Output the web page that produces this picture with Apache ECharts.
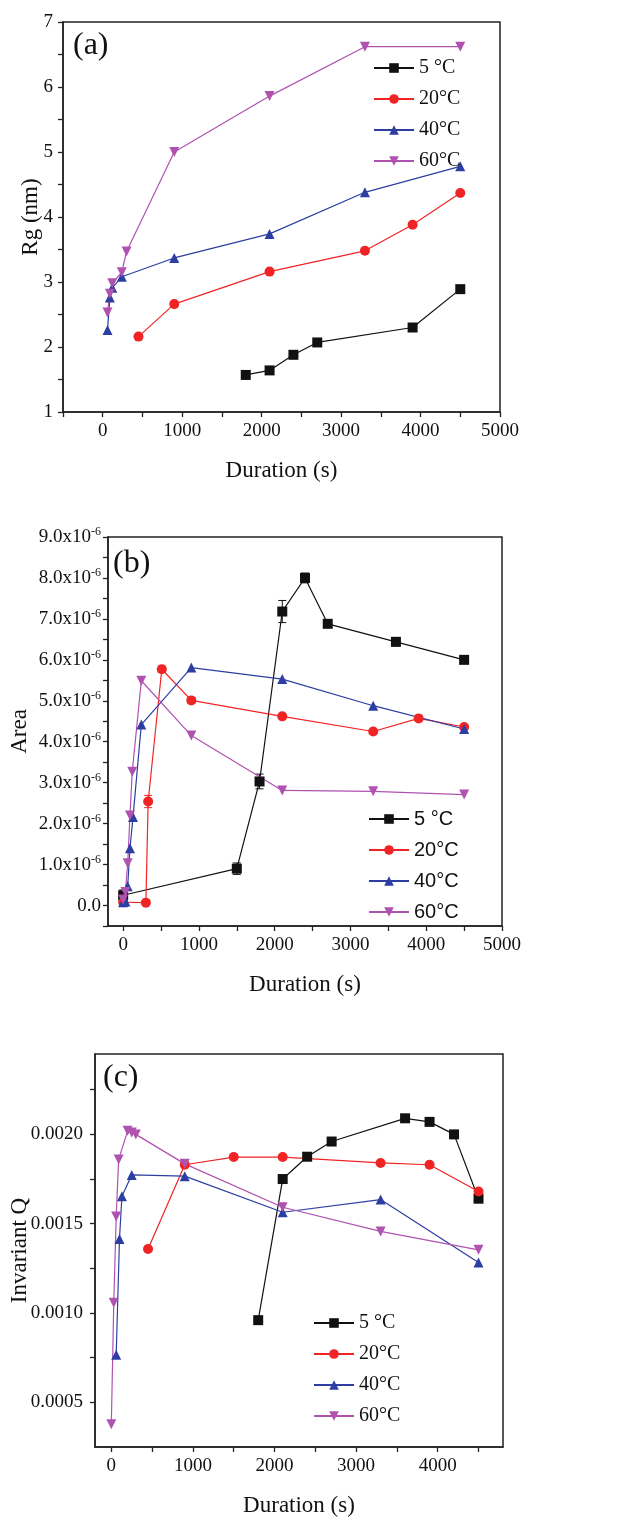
<!DOCTYPE html>
<html><head><meta charset="utf-8">
<script src="https://cdn.jsdelivr.net/npm/echarts@6/dist/echarts.min.js"></script>
<style>html,body{margin:0;padding:0;background:#fff}#c{width:638px;height:1520px}</style>
</head><body><div id="c"></div>
<script>
// ---------- data ----------
const seriesNames = ['5 °C', '20°C', '40°C', '60°C'];

// (a) Rg (nm)
const a5x = [1800, 2100, 2400, 2700, 3900, 4500];
const a5y = [1.57, 1.64, 1.88, 2.07, 2.30, 2.89];
const a20x = [450, 900, 2100, 3300, 3900, 4500];
const a20y = [2.16, 2.66, 3.16, 3.48, 3.88, 4.37];
const a40x = [60, 90, 120, 240, 900, 2100, 3300, 4500];
const a40y = [2.26, 2.76, 2.91, 3.08, 3.37, 3.74, 4.38, 4.78];
const a60x = [60, 90, 120, 240, 300, 900, 2100, 3300, 4500];
const a60y = [2.53, 2.82, 2.98, 3.15, 3.47, 5.00, 5.86, 6.62, 6.62];

// (b) Area
const b5x = [0, 1500, 1800, 2100, 2400, 2700, 3600, 4500];
const b5y = [0.25e-6, 0.90e-6, 3.03e-6, 7.18e-6, 8.00e-6, 6.88e-6, 6.44e-6, 6.00e-6];
const b5err = [0.13e-6, 0.14e-6, 0.18e-6, 0.27e-6, 0.12e-6, 0.06e-6, 0.10e-6, 0.05e-6];
const b20x = [0, 300, 330, 510, 900, 2100, 3300, 3900, 4500];
const b20y = [0.08e-6, 0.07e-6, 2.54e-6, 5.77e-6, 5.01e-6, 4.62e-6, 4.25e-6, 4.57e-6, 4.36e-6];
const b20err = [0.03e-6, 0.03e-6, 0.15e-6, 0.08e-6, 0.06e-6, 0.05e-6, 0.05e-6, 0.05e-6, 0.05e-6];
const b40x = [0, 30, 60, 90, 130, 240, 900, 2100, 3300, 4500];
const b40y = [0.08e-6, 0.10e-6, 0.47e-6, 1.40e-6, 2.16e-6, 4.42e-6, 5.81e-6, 5.53e-6, 4.88e-6, 4.31e-6];
const b60x = [0, 30, 60, 90, 120, 240, 900, 2100, 3300, 4500];
const b60y = [0.15e-6, 0.33e-6, 1.03e-6, 2.20e-6, 3.27e-6, 5.49e-6, 4.15e-6, 2.81e-6, 2.79e-6, 2.71e-6];

// (c) Invariant Q
const c5x = [1800, 2100, 2400, 2700, 3600, 3900, 4200, 4500];
const c5y = [0.00096, 0.00175, 0.001875, 0.00196, 0.00209, 0.00207, 0.00200, 0.00164];
const c20x = [450, 900, 1500, 2100, 3300, 3900, 4500];
const c20y = [0.001358, 0.00183, 0.001873, 0.001873, 0.00184, 0.00183, 0.00168];
const c40x = [60, 100, 130, 250, 900, 2100, 3300, 4500];
const c40y = [0.000766, 0.001414, 0.001654, 0.001773, 0.001766, 0.001564, 0.001635, 0.001283];
const c60x = [0, 30, 60, 90, 200, 250, 300, 900, 2100, 3300, 4500];
const c60y = [0.000378, 0.001058, 0.001541, 0.00186, 0.00202, 0.00201, 0.00200, 0.001835, 0.001592, 0.001457, 0.001354];

// tick labels
const aXLabels = [0, 1000, 2000, 3000, 4000, 5000];
const aXTicks = [-500, 0, 500, 1000, 1500, 2000, 2500, 3000, 3500, 4000, 4500, 5000];
const aYLabels = [1, 2, 3, 4, 5, 6, 7];
const aYTicks = [1, 1.5, 2, 2.5, 3, 3.5, 4, 4.5, 5, 5.5, 6, 6.5, 7];
const bXLabels = [0, 1000, 2000, 3000, 4000, 5000];
const bXTicks = [0, 500, 1000, 1500, 2000, 2500, 3000, 3500, 4000, 4500, 5000];
const bYLabels = [0, 1e-6, 2e-6, 3e-6, 4e-6, 5e-6, 6e-6, 7e-6, 8e-6, 9e-6];
const bYTicks = [-0.5e-6, 0, 0.5e-6, 1e-6, 1.5e-6, 2e-6, 2.5e-6, 3e-6, 3.5e-6, 4e-6, 4.5e-6, 5e-6, 5.5e-6, 6e-6, 6.5e-6, 7e-6, 7.5e-6, 8e-6, 8.5e-6, 9e-6];
const cXLabels = [0, 1000, 2000, 3000, 4000];
const cXTicks = [0, 500, 1000, 1500, 2000, 2500, 3000, 3500, 4000, 4500];
const cYLabels = [0.0005, 0.0010, 0.0015, 0.0020];
const cYTicks = [0.0005, 0.00075, 0.0010, 0.00125, 0.0015, 0.00175, 0.0020, 0.00225];

// ---------- styling ----------
const SERIF = 'Liberation Serif';
const SANS = 'Liberation Sans';
const colors = {'5 °C': '#111111', '20°C': '#f02424', '40°C': '#2c3ea2', '60°C': '#b052b0'};
const symbols = {'5 °C': 'rect', '20°C': 'circle', '40°C': 'triangle', '60°C': 'path://M0,0L10,0L5,9Z'};

function pairs(xs, ys) { return xs.map((x, i) => [x, ys[i]]); }
function line(name, xs, ys, gi) {
  const c = colors[name];
  return {
    type: 'line', name, xAxisIndex: gi, yAxisIndex: gi,
    data: pairs(xs, ys), symbol: symbols[name], symbolSize: 10,
    lineStyle: {width: 1.2, color: c}, itemStyle: {color: c},
    z: 3
  };
}
function errSeries(xs, ys, es, gi, c) {
  return {
    type: 'custom', name: 'err', xAxisIndex: gi, yAxisIndex: gi,
    data: xs.map((x, i) => [x, ys[i] - es[i], ys[i] + es[i]]),
    encode: {x: 0, y: [1, 2]}, z: 2,
    renderItem: (params, api) => {
      const x = api.value(0);
      const p1 = api.coord([x, api.value(1)]);
      const p2 = api.coord([x, api.value(2)]);
      const w = 4;
      const st = {stroke: c, lineWidth: 1};
      return {type: 'group', children: [
        {type: 'line', shape: {x1: p1[0], y1: p1[1], x2: p2[0], y2: p2[1]}, style: st},
        {type: 'line', shape: {x1: p1[0] - w, y1: p1[1], x2: p1[0] + w, y2: p1[1]}, style: st},
        {type: 'line', shape: {x1: p2[0] - w, y1: p2[1], x2: p2[0] + w, y2: p2[1]}, style: st}
      ]};
    }
  };
}

const axisLine = {onZero: false, lineStyle: {color: '#222', width: 1.5}};
const tickStyle = (vals) => ({show: true, inside: false, length: 5, customValues: vals, lineStyle: {color: '#222', width: 1.3}});

function xAxis(gi, min, max, labels, ticks) {
  return {
    type: 'value', gridIndex: gi, min, max,
    name: 'Duration (s)', nameLocation: 'middle', nameGap: 47, nameMoveOverlap: false,
    nameTextStyle: {fontFamily: SERIF, fontSize: 23, color: '#111'},
    axisLine, axisTick: tickStyle(ticks),
    axisLabel: {customValues: labels, fontFamily: SERIF, fontSize: 19, color: '#111', margin: 10,
      formatter: v => String(Math.round(v))},
    splitLine: {show: false}
  };
}

const grids = [
  {left: 63, top: 22, width: 437, height: 390},
  {left: 104, top: 537, width: 398, height: 389},
  {left: 94, top: 1054, width: 409, height: 393}
].map(g => Object.assign(g, {show: true, borderColor: '#222', borderWidth: 1.5, containLabel: false}));

function legend(top, left, font) {
  return {
    orient: 'vertical', left, top, itemWidth: 40, itemHeight: 12, itemGap: 11,
    data: seriesNames,
    textStyle: {fontFamily: font, fontSize: 20, color: '#111', lineHeight: 20},
    selectedMode: false
  };
}

const option = {
  animation: false,
  backgroundColor: '#fff',
  grid: grids,
  xAxis: [
    xAxis(0, -500, 5000, aXLabels, aXTicks),
    xAxis(1, -200, 5000, bXLabels, bXTicks),
    xAxis(2, -200, 4800, cXLabels, cXTicks)
  ],
  yAxis: [
    {
      type: 'value', gridIndex: 0, min: 1, max: 7,
      name: 'Rg (nm)', nameLocation: 'middle', nameGap: 21, nameMoveOverlap: false,
      nameTextStyle: {fontFamily: SERIF, fontSize: 23, color: '#111'},
      axisLine, axisTick: tickStyle(aYTicks),
      axisLabel: {customValues: aYLabels, fontFamily: SERIF, fontSize: 19, color: '#111', margin: 10},
      splitLine: {show: false}
    },
    {
      type: 'value', gridIndex: 1, min: -0.5e-6, max: 9e-6,
      name: 'Area', nameLocation: 'middle', nameGap: 77, nameMoveOverlap: false,
      nameTextStyle: {fontFamily: SERIF, fontSize: 23, color: '#111'},
      axisLine, axisTick: tickStyle(bYTicks),
      axisLabel: {
        customValues: bYLabels, margin: 7,
        formatter: v => Math.abs(v) < 1e-12 ? '{m|0.0}' : '{m|' + (v * 1e6).toFixed(1) + 'x10}{s|-6}',
        rich: {
          m: {fontFamily: SERIF, fontSize: 19, color: '#111', lineHeight: 22},
          s: {fontFamily: SERIF, fontSize: 12, color: '#111', lineHeight: 22, verticalAlign: 'top', padding: [0, 0, 10, 0]}
        }
      },
      splitLine: {show: false}
    },
    {
      type: 'value', gridIndex: 2, min: 0.00025, max: 0.00245,
      name: 'Invariant Q', nameLocation: 'middle', nameGap: 64, nameMoveOverlap: false,
      nameTextStyle: {fontFamily: SERIF, fontSize: 23, color: '#111'},
      axisLine, axisTick: tickStyle(cYTicks),
      axisLabel: {customValues: cYLabels, fontFamily: SERIF, fontSize: 19, color: '#111', margin: 12,
        formatter: v => v.toFixed(4)},
      splitLine: {show: false}
    }
  ],
  legend: [
    legend(53, 368, SERIF),
    legend(804, 363, SANS),
    legend(1308, 308, SERIF)
  ],
  graphic: [
    {type: 'text', left: 73, top: 30, style: {text: '(a)', font: '32px "Liberation Serif"', fill: '#111'}},
    {type: 'text', left: 113, top: 548, style: {text: '(b)', font: '32px "Liberation Serif"', fill: '#111'}},
    {type: 'text', left: 103, top: 1062, style: {text: '(c)', font: '32px "Liberation Serif"', fill: '#111'}}
  ],
  series: [
    line('5 °C', a5x, a5y, 0), line('20°C', a20x, a20y, 0), line('40°C', a40x, a40y, 0), line('60°C', a60x, a60y, 0),
    errSeries(b5x, b5y, b5err, 1, colors['5 °C']),
    errSeries(b20x, b20y, b20err, 1, colors['20°C']),
    line('5 °C', b5x, b5y, 1), line('20°C', b20x, b20y, 1), line('40°C', b40x, b40y, 1), line('60°C', b60x, b60y, 1),
    line('5 °C', c5x, c5y, 2), line('20°C', c20x, c20y, 2), line('40°C', c40x, c40y, 2), line('60°C', c60x, c60y, 2)
  ]
};

const chart = echarts.init(document.getElementById('c'), null, {renderer: 'canvas'});
chart.setOption(option);
</script></body></html>
